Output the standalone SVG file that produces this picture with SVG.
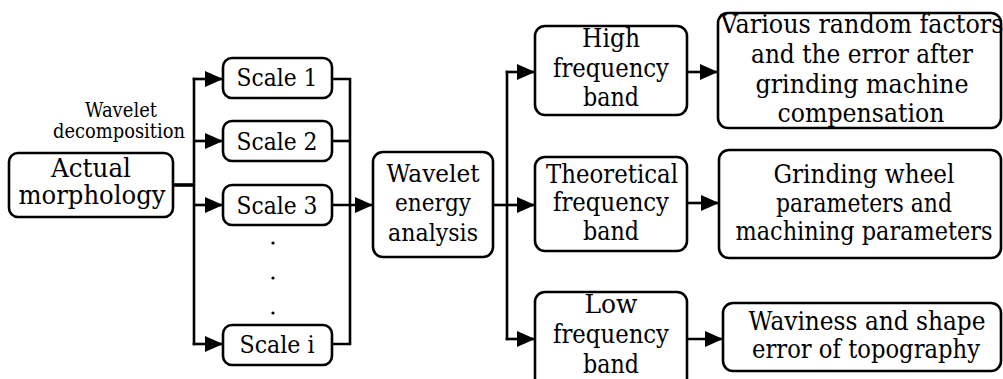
<svg xmlns="http://www.w3.org/2000/svg" width="1003" height="379" viewBox="0 0 1003 379">
<defs>
<marker id="ah" markerUnits="userSpaceOnUse" markerWidth="20" markerHeight="16" refX="18" refY="8" orient="auto">
<path d="M0,0 L18,8 L0,16 Z" fill="#000"/>
</marker>
<style>
.box{fill:#fff;stroke:#000;stroke-width:2.6}
text{font-family:'DejaVu Serif','Liberation Serif',serif;fill:#000;text-anchor:middle}
.t30{font-size:26.7px}
.t29{font-size:25.8px}
.t28{font-size:24.9px}
.s{font-size:19.6px}
.c{fill:none;stroke:#000;stroke-width:2.6}
.a{fill:none;stroke:#000;stroke-width:2.6;marker-end:url(#ah)}
</style>
</defs>
<rect width="1003" height="379" fill="#fff"/>
<g id="connectors">
<line class="c" x1="173" y1="185" x2="195" y2="185" style="stroke-width:3.6"/>
<line class="c" x1="194" y1="77.7" x2="194" y2="345.3"/>
<line class="a" x1="192.7" y1="79" x2="223" y2="79"/>
<line class="a" x1="194" y1="141" x2="223" y2="141"/>
<line class="a" x1="194" y1="205" x2="223" y2="205"/>
<line class="a" x1="192.7" y1="344" x2="223" y2="344"/>
<polyline class="c" points="332,79 350,79 350,344 332,344"/>
<line class="c" x1="332" y1="141" x2="350" y2="141"/>
<line class="a" x1="332" y1="205" x2="373" y2="205"/>
<line class="c" x1="493" y1="205" x2="507" y2="205"/>
<line class="c" x1="507" y1="70.7" x2="507" y2="340.3"/>
<line class="a" x1="505.7" y1="72" x2="535" y2="72"/>
<line class="a" x1="507" y1="205" x2="535" y2="205"/>
<line class="a" x1="505.7" y1="339" x2="535" y2="339"/>
<line class="a" x1="687" y1="72" x2="718" y2="72"/>
<line class="a" x1="687" y1="203" x2="719" y2="203"/>
<line class="a" x1="687" y1="339" x2="723" y2="339"/>
</g>
<g id="label-decomposition">
<text class="s" x="121" y="117" textLength="72" lengthAdjust="spacingAndGlyphs">Wavelet</text>
<text class="s" x="119" y="138" textLength="132" lengthAdjust="spacingAndGlyphs">decomposition</text>
</g>
<g id="actual">
<rect class="box" x="9" y="153" width="164" height="64" rx="9"/>
<text class="t30" x="91" y="177" textLength="80" lengthAdjust="spacingAndGlyphs">Actual</text>
<text class="t30" x="92" y="204" textLength="147" lengthAdjust="spacingAndGlyphs">morphology</text>
</g>
<g id="scale1">
<rect class="box" x="223" y="58" width="109" height="40" rx="9"/>
<text class="t28" x="277" y="86" textLength="81" lengthAdjust="spacingAndGlyphs">Scale 1</text>
</g>
<g id="scale2">
<rect class="box" x="223" y="121" width="109" height="40" rx="9"/>
<text class="t28" x="277" y="150" textLength="81" lengthAdjust="spacingAndGlyphs">Scale 2</text>
</g>
<g id="scale3">
<rect class="box" x="223" y="185" width="109" height="40" rx="9"/>
<text class="t28" x="277" y="214" textLength="81" lengthAdjust="spacingAndGlyphs">Scale 3</text>
</g>
<g id="dots">
<circle cx="273" cy="243" r="1.6"/>
<circle cx="273" cy="278" r="1.6"/>
<circle cx="273" cy="313" r="1.6"/>
</g>
<g id="scalei">
<rect class="box" x="223" y="325" width="109" height="40" rx="9"/>
<text class="t28" x="277" y="353" textLength="75" lengthAdjust="spacingAndGlyphs">Scale i</text>
</g>
<g id="energy">
<rect class="box" x="373" y="152" width="120" height="105" rx="10"/>
<text class="t28" x="433" y="182" textLength="93" lengthAdjust="spacingAndGlyphs">Wavelet</text>
<text class="t28" x="433" y="211" textLength="76" lengthAdjust="spacingAndGlyphs">energy</text>
<text class="t28" x="433" y="241" textLength="90" lengthAdjust="spacingAndGlyphs">analysis</text>
</g>
<g id="high">
<rect class="box" x="535" y="26" width="152" height="89" rx="10"/>
<text class="t29" x="611" y="47" textLength="58" lengthAdjust="spacingAndGlyphs">High</text>
<text class="t29" x="611" y="77" textLength="116" lengthAdjust="spacingAndGlyphs">frequency</text>
<text class="t29" x="611" y="106" textLength="56" lengthAdjust="spacingAndGlyphs">band</text>
</g>
<g id="theoretical">
<rect class="box" x="535" y="157" width="152" height="94" rx="10"/>
<text class="t29" x="612" y="183" textLength="132" lengthAdjust="spacingAndGlyphs">Theoretical</text>
<text class="t29" x="611" y="211" textLength="116" lengthAdjust="spacingAndGlyphs">frequency</text>
<text class="t29" x="611" y="240" textLength="56" lengthAdjust="spacingAndGlyphs">band</text>
</g>
<g id="low">
<rect class="box" x="535" y="292" width="152" height="100" rx="10"/>
<text class="t29" x="611" y="313" textLength="53" lengthAdjust="spacingAndGlyphs">Low</text>
<text class="t29" x="611" y="343" textLength="116" lengthAdjust="spacingAndGlyphs">frequency</text>
<text class="t29" x="611" y="373" textLength="56" lengthAdjust="spacingAndGlyphs">band</text>
</g>
<g id="random">
<rect class="box" x="718" y="13" width="283" height="115" rx="10"/>
<text class="t30" x="862" y="33" textLength="283" lengthAdjust="spacingAndGlyphs">Various random factors</text>
<text class="t30" x="862" y="63" textLength="222" lengthAdjust="spacingAndGlyphs">and the error after</text>
<text class="t30" x="862" y="93" textLength="213" lengthAdjust="spacingAndGlyphs">grinding machine</text>
<text class="t30" x="861" y="122" textLength="167" lengthAdjust="spacingAndGlyphs">compensation</text>
</g>
<g id="grinding">
<rect class="box" x="719" y="150" width="282" height="108" rx="10"/>
<text class="t29" x="864" y="183" textLength="181" lengthAdjust="spacingAndGlyphs">Grinding wheel</text>
<text class="t29" x="864" y="212" textLength="176" lengthAdjust="spacingAndGlyphs">parameters and</text>
<text class="t29" x="864" y="240" textLength="257" lengthAdjust="spacingAndGlyphs">machining parameters</text>
</g>
<g id="waviness">
<rect class="box" x="723" y="303" width="278" height="68" rx="10"/>
<text class="t29" x="867" y="330" textLength="237" lengthAdjust="spacingAndGlyphs">Waviness and shape</text>
<text class="t29" x="866" y="358" textLength="228" lengthAdjust="spacingAndGlyphs">error of topography</text>
</g>
</svg>
